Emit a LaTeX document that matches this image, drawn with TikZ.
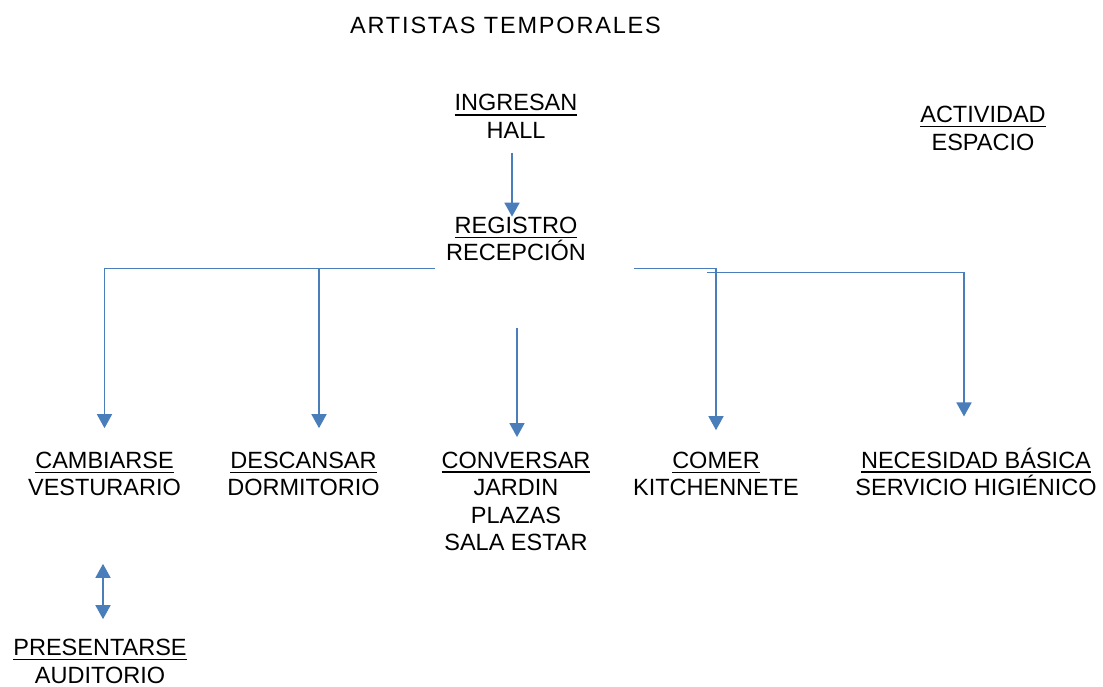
\documentclass[tikz,border=0pt]{standalone}
\usepackage{fontspec}
\setmainfont{Liberation Sans}
\usetikzlibrary{arrows.meta}
\definecolor{azul}{RGB}{74,126,187}
\newcommand{\subr}[1]{\setbox0=\hbox{#1}\rlap{\rule[-4.7pt]{\wd0}{1.4pt}}\box0}
\tikzset{
  texto/.style={align=center,inner sep=0pt,font=\fontsize{23.5}{27.6}\selectfont},
  flecha/.style={azul,line width=1.6pt,-{Triangle[width=15pt,length=14pt]}},
  doble/.style={azul,line width=1.6pt,{Triangle[width=15pt,length=14pt]}-{Triangle[width=15pt,length=14pt]}}
}
\begin{document}
\begin{tikzpicture}[x=1pt,y=-1pt]
  \useasboundingbox (0,0) rectangle (1103,687);
  \node[texto,font=\fontsize{23.5}{27.6}\selectfont\addfontfeature{LetterSpace=7.7}] (titulo) at (505.5,25) {ARTISTAS TEMPORALES};
  \node[texto] (ingresan) at (516,116.5) {\subr{INGRESAN}\\HALL};
  \node[texto] (registro) at (516,239) {\subr{REGISTRO}\\RECEPCIÓN};
  \node[texto] (leyenda) at (983,128.5) {\subr{ACTIVIDAD}\\ESPACIO};
  \node[texto] (cambiarse) at (104.5,474) {\subr{CAMBIARSE}\\VESTURARIO};
  \node[texto] (descansar) at (303.5,474) {\subr{DESCANSAR}\\DORMITORIO};
  \node[texto] (conversar) at (516,501.5) {\subr{CONVERSAR}\\JARDIN\\PLAZAS\\SALA ESTAR};
  \node[texto] (comer) at (716,474) {\subr{COMER}\\KITCHENNETE};
  \node[texto] (necesidad) at (976,471.8) {\subr{NECESIDAD BÁSICA}\\SERVICIO HIGIÉNICO};
  \node[texto] (presentarse) at (100,661.5) {\subr{PRESENTARSE}\\AUDITORIO};
  \coordinate (izq) at ([xshift=-11pt,yshift=-7pt]registro.south west);
  \coordinate (der) at ([xshift=47.5pt,yshift=-7pt]registro.south east);
  \draw[flecha,shorten <=14pt] ([xshift=-4pt]ingresan.south) -- ([xshift=-4pt]ingresan.south |- registro.north);
  \draw[flecha,shorten >=23.5pt] (izq) -| (cambiarse.north);
  \draw[flecha,shorten >=23.5pt] ([xshift=15.5pt]descansar.north |- izq) -- ([xshift=15.5pt]descansar.north);
  \draw[flecha,shorten <=66.5pt,shorten >=14.5pt] ([xshift=1pt]registro.south) -- ([xshift=1pt]registro.south |- conversar.north);
  \draw[flecha,shorten >=21.5pt] (der) -| (comer.north);
  \draw[flecha,shorten >=31pt] ([xshift=-9pt,yshift=-4pt]der -| comer.north) -| ([xshift=-12pt]necesidad.north);
  \draw[doble,shorten <=67.5pt,shorten >=20pt] ([xshift=-1.5pt]cambiarse.south) -- ([xshift=-1.5pt]cambiarse.south |- presentarse.north);
\end{tikzpicture}
\end{document}
